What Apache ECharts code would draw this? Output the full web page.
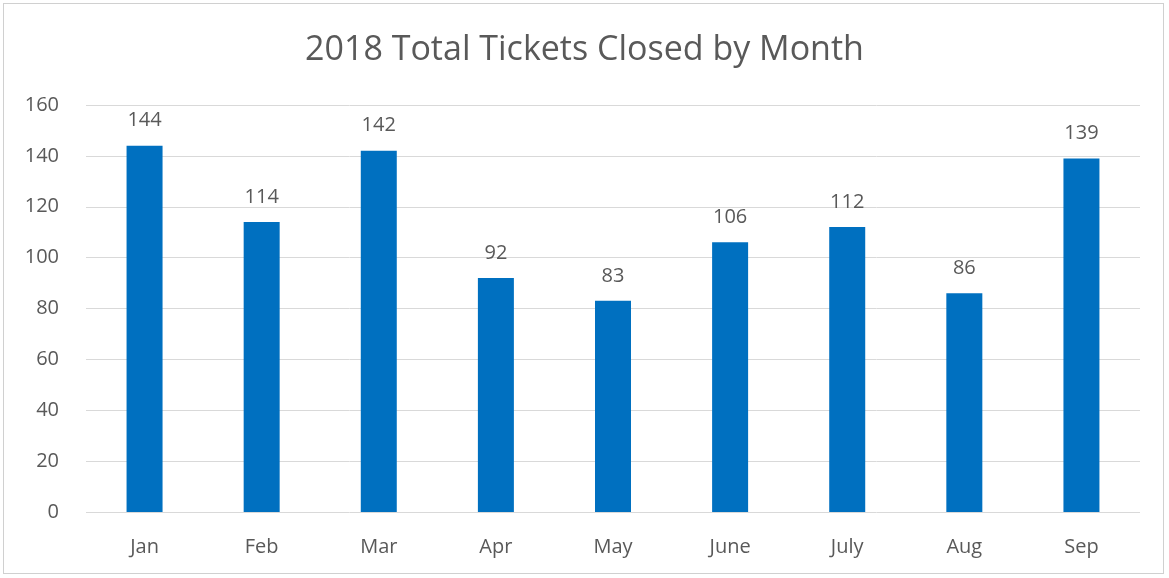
<!DOCTYPE html>
<html>
<head>
<meta charset="utf-8">
<script src="https://cdn.jsdelivr.net/npm/echarts@6/dist/echarts.min.js"></script>
<style>
  html, body { margin: 0; padding: 0; background: #fff; }
  #frame { position: absolute; left: 3px; top: 3px; width: 1161px; height: 571px; border: 1px solid #d0d0d0; box-sizing: border-box; }
  #chart { width: 1169px; height: 578px; }
</style>
</head>
<body>
<div id="frame"></div>
<div id="chart"></div>
<script>
// Monthly ticket closures for 2018
const months = ['Jan', 'Feb', 'Mar', 'Apr', 'May', 'June', 'July', 'Aug', 'Sep'];
const ticketsClosed = [144, 114, 142, 92, 83, 106, 112, 86, 139];

const textColor = '#595959';
const fontFamily = '"Open Sans", "Noto Sans", sans-serif';

const chart = echarts.init(document.getElementById('chart'));
chart.setOption({
  animation: false,
  title: {
    text: '2018 Total Tickets Closed by Month',
    left: 'center',
    top: 28,
    textStyle: { color: textColor, fontSize: 34, fontWeight: 'normal', fontFamily }
  },
  grid: { left: 86, right: 29, top: 105, bottom: 66 },
  xAxis: {
    type: 'category',
    data: months,
    axisLine: { show: false },
    axisTick: { show: false },
    axisLabel: { color: textColor, fontSize: 20, fontFamily, margin: 25 }
  },
  yAxis: {
    type: 'value',
    min: 0,
    max: 160,
    interval: 20,
    axisLine: { show: false },
    axisTick: { show: false },
    axisLabel: { color: textColor, fontSize: 20, fontFamily, margin: 27 },
    splitLine: { lineStyle: { color: '#d9d9d9', width: 1 } }
  },
  series: [{
    type: 'bar',
    data: ticketsClosed,
    barWidth: 36,
    itemStyle: { color: '#0070c0' },
    label: {
      show: true,
      position: 'top',
      distance: 15,
      color: textColor,
      fontSize: 20,
      fontFamily
    }
  }]
});
</script>
</body>
</html>
